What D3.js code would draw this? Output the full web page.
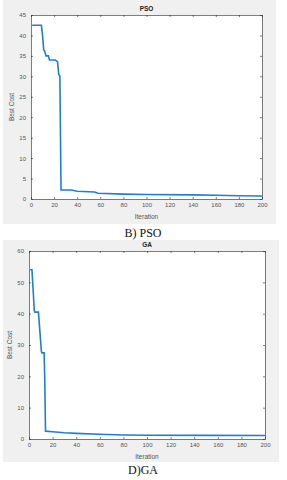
<!DOCTYPE html>
<html>
<head>
<meta charset="UTF-8">
<title>PSO / GA</title>
<script src="https://d3js.org/d3.v7.min.js"></script>
<style>
  body { margin: 0; background: #fff; }
  svg { display: block; }
</style>
</head>
<body>
<div id="chart"></div>
<script>
// -- Donnees --
const psoIter = [1, 9, 10, 11, 12, 13, 15, 16, 21, 22, 23, 24, 25, 26, 35, 40, 55, 58, 80, 100, 140, 160, 180, 200];
const psoCost = [42.5, 42.5, 40, 36.5, 36, 35, 35, 34, 34, 33.8, 33.5, 30.5, 30, 2.2, 2.2, 1.9, 1.7, 1.4, 1.2, 1.1, 1.0, 0.9, 0.8, 0.75];

const gaIter = [1, 2.5, 4.5, 5, 8, 10.5, 11, 12.8, 13.3, 14, 20, 30, 40, 60, 80, 100, 150, 200];
const gaCost = [54, 54, 41, 40.5, 40.5, 28, 27.5, 27.5, 20, 2.5, 2.3, 2.0, 1.8, 1.5, 1.3, 1.2, 1.15, 1.1];

const xTicks = [0, 20, 40, 60, 80, 100, 120, 140, 160, 180, 200];
const psoTicks = [0, 5, 10, 15, 20, 25, 30, 35, 40, 45];
const gaTicks = [0, 10, 20, 30, 40, 50, 60];

const width = 287, height = 480;
const sans = "Arial, 'Liberation Sans', sans-serif";

const svg = d3.select("#chart").append("svg")
    .attr("width", width)
    .attr("height", height);

function panel(cfg) {
    // fond gris du graphique
    svg.append("rect")
        .attr("x", cfg.bg[0]).attr("y", cfg.bg[1])
        .attr("width", cfg.bg[2]).attr("height", cfg.bg[3])
        .attr("fill", "#f0f0f0");

    const x = d3.scaleLinear().domain([0, 200]).range([cfg.left, cfg.right]);
    const y = d3.scaleLinear().domain([0, cfg.ymax]).range([cfg.bottom, cfg.top]);

    svg.append("rect")
        .attr("x", cfg.left).attr("y", cfg.top)
        .attr("width", cfg.right - cfg.left).attr("height", cfg.bottom - cfg.top)
        .attr("fill", "#fff");

    const g = svg.append("g");

    // axes facon matlab (ticks vers l'interieur)
    const axB = g.append("g").attr("transform", `translate(0,${cfg.bottom})`)
        .call(d3.axisBottom(x).tickValues(xTicks).tickSizeInner(-2).tickSizeOuter(0).tickPadding(5));
    const axT = g.append("g").attr("transform", `translate(0,${cfg.top})`)
        .call(d3.axisTop(x).tickValues(xTicks).tickSizeInner(-2).tickSizeOuter(0).tickFormat(""));
    const axL = g.append("g").attr("transform", `translate(${cfg.left},0)`)
        .call(d3.axisLeft(y).tickValues(cfg.yTicks).tickSizeInner(-2).tickSizeOuter(0).tickPadding(5));
    const axR = g.append("g").attr("transform", `translate(${cfg.right},0)`)
        .call(d3.axisRight(y).tickValues(cfg.yTicks).tickSizeInner(-2).tickSizeOuter(0).tickFormat(""));

    [axB, axT, axL, axR].forEach(a => {
        a.attr("font-size", 6).attr("font-family", sans);
        a.selectAll(".domain").attr("stroke", "#262626").attr("stroke-width", 0.6);
        a.selectAll(".tick line").attr("stroke", "#262626").attr("stroke-width", 0.6);
        a.selectAll("text").attr("fill", "#555");
    });
    axB.selectAll("text").attr("dy", "0.5em");

    const line = d3.line().x((d, i) => x(cfg.xs[i])).y(d => y(d));
    svg.append("path")
        .datum(cfg.ys)
        .attr("d", line)
        .attr("fill", "none")
        .attr("stroke", "#1f7fcf")
        .attr("stroke-width", 1.6);

    svg.append("text")
        .attr("x", (cfg.left + cfg.right) / 2).attr("y", cfg.top - 4)
        .attr("text-anchor", "middle")
        .style("font-family", sans)
        .style("font-size", "6.5px").style("font-weight", "bold")
        .attr("fill", "#222")
        .text(cfg.title);

    svg.append("text")
        .attr("x", (cfg.left + cfg.right) / 2).attr("y", cfg.bottom + 20)
        .attr("text-anchor", "middle")
        .style("font-family", sans)
        .style("font-size", "6.5px")
        .attr("fill", "#555")
        .text("Iteration");

    svg.append("text")
        .attr("transform", `translate(${cfg.left - 17},${(cfg.top + cfg.bottom) / 2}) rotate(-90)`)
        .attr("text-anchor", "middle")
        .style("font-family", sans)
        .style("font-size", "6.5px")
        .attr("fill", "#555")
        .text("Best Cost");

    svg.append("text")
        .attr("x", 143).attr("y", cfg.capY)
        .attr("text-anchor", "middle")
        .style("font-family", "'Liberation Serif', 'DejaVu Serif', serif")
        .style("font-size", "12px")
        .attr("fill", "#111")
        .text(cfg.caption);
}

panel({ bg: [3, 0, 273, 224], left: 31, right: 262, top: 15, bottom: 199,
        ymax: 45, yTicks: psoTicks, xs: psoIter, ys: psoCost,
        title: "PSO", caption: "B) PSO", capY: 237 });

panel({ bg: [3, 240, 276, 222], left: 29, right: 265, top: 251, bottom: 439,
        ymax: 60, yTicks: gaTicks, xs: gaIter, ys: gaCost,
        title: "GA", caption: "D)GA", capY: 474 });
</script>
</body>
</html>
